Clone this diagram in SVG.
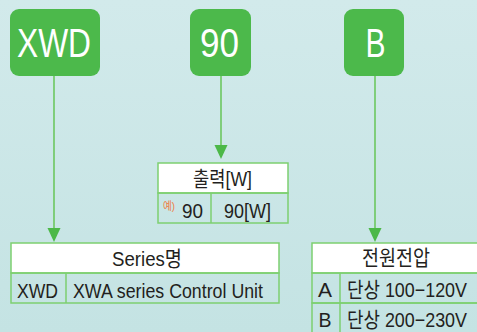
<svg xmlns="http://www.w3.org/2000/svg" width="477" height="332" viewBox="0 0 477 332">
<defs>
<linearGradient id="bg" x1="0" y1="0" x2="0" y2="1">
<stop offset="0" stop-color="#d2eaeb"/>
<stop offset="1" stop-color="#c4e3e3"/>
</linearGradient>
<style>
.box{fill:#4cb94b}
.bt{fill:#ffffff;font-family:"Liberation Sans","Noto Sans CJK KR",sans-serif;font-size:41px;text-anchor:middle}
.ln{stroke:#6cc760;stroke-width:1.6;fill:none}
.ah{fill:#4cb848}
.hd{fill:#ffffff;stroke:#7dcf70;stroke-width:1.5}
.cell{fill:none;stroke:#7dcf70;stroke-width:1.5}
.tt{fill:#231f20;font-family:"Liberation Sans","Noto Sans CJK KR",sans-serif;font-size:21px;text-anchor:middle}
</style>
</defs>
<rect width="477" height="332" fill="url(#bg)"/>
<g id="connectors">
<line class="ln" x1="54" y1="76" x2="54" y2="229"/>
<path class="ah" d="M47.5,228 L60.5,228 L54,242 Z"/>
<line class="ln" x1="221" y1="76" x2="221" y2="146"/>
<path class="ah" d="M214.5,145 L227.5,145 L221,159 Z"/>
<line class="ln" x1="375" y1="76" x2="375" y2="229"/>
<path class="ah" d="M368.5,228 L381.5,228 L375,242 Z"/>
</g>
<g id="node-xwd">
<rect class="box" x="10" y="9" width="90" height="67" rx="9"/>
<text class="bt" x="54" y="57" textLength="74" lengthAdjust="spacingAndGlyphs">XWD</text>
</g>
<g id="node-90">
<rect class="box" x="190" y="9" width="61" height="67" rx="9"/>
<text class="bt" x="219.5" y="57" textLength="39" lengthAdjust="spacingAndGlyphs">90</text>
</g>
<g id="node-b">
<rect class="box" x="344" y="9" width="60" height="67" rx="9"/>
<text class="bt" x="375.5" y="57" textLength="20" lengthAdjust="spacingAndGlyphs">B</text>
</g>
<g id="table-output">
<rect class="hd" x="158" y="163" width="130" height="30"/>
<rect class="cell" x="158" y="193" width="130" height="30"/>
<line class="cell" x1="211" y1="193" x2="211" y2="223"/>
<text class="tt" x="222.5" y="186" textLength="59" lengthAdjust="spacingAndGlyphs">출력[W]</text>
<text x="169" y="210" fill="#f07a3c" font-family="Liberation Sans,'Noto Sans CJK KR',sans-serif" font-size="11" text-anchor="middle" textLength="12" lengthAdjust="spacingAndGlyphs">예)</text>
<text class="tt" x="192.5" y="218" textLength="21" lengthAdjust="spacingAndGlyphs">90</text>
<text class="tt" x="247.5" y="218" textLength="47" lengthAdjust="spacingAndGlyphs">90[W]</text>
</g>
<g id="table-series">
<rect class="hd" x="11" y="243" width="268" height="30"/>
<rect class="cell" x="11" y="273" width="268" height="30"/>
<line class="cell" x1="66" y1="273" x2="66" y2="303"/>
<text class="tt" x="147" y="266" textLength="70" lengthAdjust="spacingAndGlyphs">Series명</text>
<text class="tt" x="37.5" y="298" textLength="41" lengthAdjust="spacingAndGlyphs">XWD</text>
<text class="tt" x="168" y="298" textLength="190" lengthAdjust="spacingAndGlyphs">XWA series Control Unit</text>
</g>
<g id="table-power">
<rect class="hd" x="312" y="243" width="170" height="30"/>
<rect class="cell" x="312" y="273" width="170" height="30"/>
<rect class="cell" x="312" y="303" width="170" height="30"/>
<line class="cell" x1="340" y1="273" x2="340" y2="333"/>
<text class="tt" x="396" y="265" textLength="68" lengthAdjust="spacingAndGlyphs">전원전압</text>
<text class="tt" x="325" y="297" textLength="14" lengthAdjust="spacingAndGlyphs">A</text>
<text class="tt" x="407" y="297" textLength="120" lengthAdjust="spacingAndGlyphs">단상 100−120V</text>
<text class="tt" x="325" y="327" textLength="13" lengthAdjust="spacingAndGlyphs">B</text>
<text class="tt" x="407" y="327" textLength="120" lengthAdjust="spacingAndGlyphs">단상 200−230V</text>
</g>
</svg>
